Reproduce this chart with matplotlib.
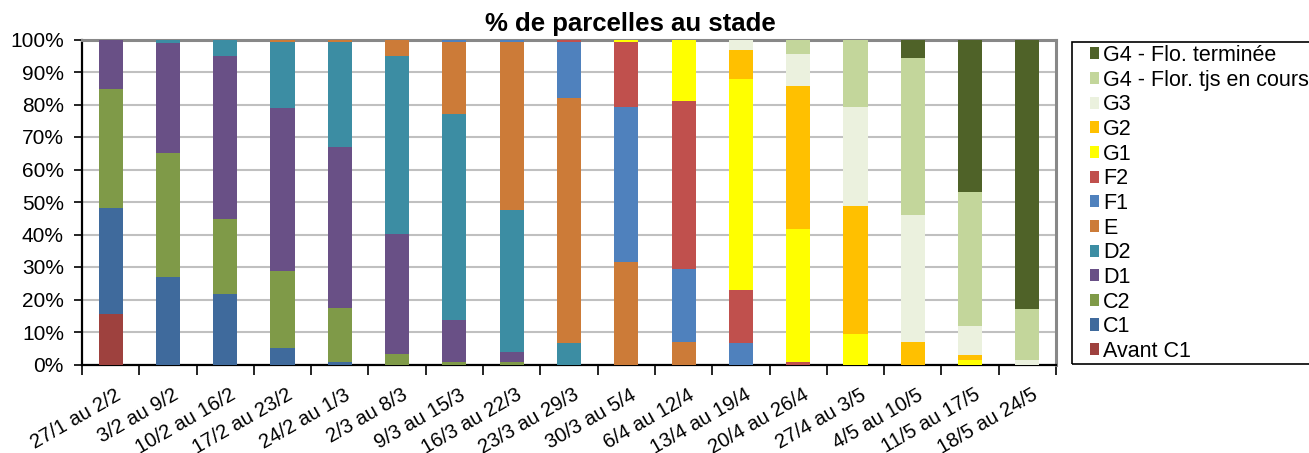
#!/usr/bin/env python3
# _*_ coding=utf-8 _*_

import numpy as np
import matplotlib
matplotlib.use("Agg")
import matplotlib.pyplot as plt
from matplotlib.patches import Patch, Rectangle
from matplotlib.transforms import ScaledTranslation

plt.rcParams["font.family"] = ["Liberation Sans", "DejaVu Sans"]

weeks = ["27/1 au 2/2", "3/2 au 9/2", "10/2 au 16/2", "17/2 au 23/2",
         "24/2 au 1/3", "2/3 au 8/3", "9/3 au 15/3", "16/3 au 22/3",
         "23/3 au 29/3", "30/3 au 5/4", "6/4 au 12/4", "13/4 au 19/4",
         "20/4 au 26/4", "27/4 au 3/5", "4/5 au 10/5", "11/5 au 17/5",
         "18/5 au 24/5"]

stages = ["Avant C1", "C1", "C2", "D1", "D2", "E", "F1", "F2",
          "G1", "G2", "G3", "G4 - Flor. tjs en cours", "G4 - Flo. terminée"]

# % of plots per stage, one list per stage (same order as weeks)
avant_c1 = [15.4, 0, 0, 0, 0, 0, 0, 0, 0, 0, 0, 0, 0, 0, 0, 0, 0]
c1 = [32.7, 27, 21.6, 5.1, 0.9, 0, 0, 0, 0, 0, 0, 0, 0, 0, 0, 0, 0]
c2 = [36.7, 38, 23.3, 23.8, 16.6, 3.1, 0.8, 0.8, 0, 0, 0, 0, 0, 0, 0, 0, 0]
d1 = [15.2, 34, 50.1, 50, 49.5, 37, 13, 2.9, 0, 0, 0, 0, 0, 0, 0, 0, 0]
d2 = [0, 1, 5, 20.3, 32.2, 54.9, 63.2, 43.9, 6.7, 0, 0, 0, 0, 0, 0, 0, 0]
e = [0, 0, 0, 0.8, 0.8, 5, 22.3, 51.7, 75.2, 31.5, 7, 0, 0, 0, 0, 0, 0]
f1 = [0, 0, 0, 0, 0, 0, 0.7, 0.7, 17.3, 47.6, 22.4, 6.6, 0, 0, 0, 0, 0]
f2 = [0, 0, 0, 0, 0, 0, 0, 0, 0.8, 20.1, 51.8, 16.4, 0.9, 0, 0, 0, 0]
g1 = [0, 0, 0, 0, 0, 0, 0, 0, 0, 0.8, 18.8, 65, 40.7, 9.3, 0, 1.4, 0]
g2 = [0, 0, 0, 0, 0, 0, 0, 0, 0, 0, 0, 8.9, 44.2, 39.4, 6.9, 1.4, 0]
g3 = [0, 0, 0, 0, 0, 0, 0, 0, 0, 0, 0, 3.1, 9.6, 30.4, 39, 9, 1.5]
g4_cours = [0, 0, 0, 0, 0, 0, 0, 0, 0, 0, 0, 0, 4.6, 20.9, 48.4, 41.2, 15.6]
g4_term = [0, 0, 0, 0, 0, 0, 0, 0, 0, 0, 0, 0, 0, 0, 5.7, 47, 82.9]

colors = ["#9E413E", "#3F6A9C", "#7F9A48", "#695086", "#3C8DA3", "#CC7B38",
          "#4F81BD", "#C0504D", "#FFFF00", "#FFC000", "#EBF1DE", "#C3D69B",
          "#4F6228"]


def main():
    series = [avant_c1, c1, c2, d1, d2, e, f1, f2, g1, g2, g3, g4_cours, g4_term]

    W, H = 1309, 453
    fig = plt.figure(figsize=(W / 100, H / 100), dpi=100)
    ax = fig.add_axes([82 / W, 1 - 364.5 / H, 974 / W, 325 / H])

    x = np.arange(len(weeks))
    bottom = np.zeros(len(weeks))
    for vals, col in zip(series, colors):
        vals = np.array(vals, dtype=float)
        ax.bar(x, vals, width=0.42, bottom=bottom, color=col, zorder=3)
        bottom += vals

    ax.set_xlim(-0.5, len(weeks) - 0.5)
    ax.set_ylim(0, 100)
    ax.set_yticks(np.arange(0, 101, 10))
    ax.set_yticklabels(["%d%%" % v for v in range(0, 101, 10)], fontsize=15)
    ax.yaxis.grid(True, color="#c0c0c0", linewidth=1.5, zorder=0)
    ax.set_axisbelow(True)

    ax.set_xticks(x)
    ax.set_xticklabels(weeks, rotation=30, ha="right", va="top",
                       rotation_mode="anchor", fontsize=14.5)
    ax.set_xticks(np.arange(-0.5, len(weeks), 1), minor=True)
    ax.tick_params(axis="x", which="major", length=0, pad=15)
    ax.tick_params(axis="x", which="minor", length=7, width=1.2, color="black")
    ax.tick_params(axis="y", length=6, width=1.2, direction="out", pad=7)
    shift = ScaledTranslation(4 / 100, 0, fig.dpi_scale_trans)
    for lbl in ax.get_xticklabels():
        lbl.set_transform(lbl.get_transform() + shift)

    ax.spines["left"].set_color("black")
    ax.spines["bottom"].set_color("black")
    ax.spines["left"].set_linewidth(1.6)
    ax.spines["bottom"].set_linewidth(1.6)
    ax.spines["top"].set_color("#888888")
    ax.spines["right"].set_color("#888888")
    ax.spines["top"].set_linewidth(2.2)
    ax.spines["right"].set_linewidth(2.2)

    fig.text(630 / W, 1 - 24 / H, "% de parcelles au stade", ha="center",
             va="center", fontsize=18.5, fontweight="bold")

    # legend frame runs off the right edge, as in the original
    fig.patches.append(Rectangle((1072 / W, 1 - 364 / H), 300 / W, 322 / H,
                                 transform=fig.transFigure, fill=False,
                                 edgecolor="black", linewidth=1.2))
    handles = [Patch(facecolor=c) for c in colors][::-1]
    fig.legend(handles, stages[::-1], loc="upper left",
               bbox_to_anchor=(1090 / W, 1 - 45 / H), fontsize=15.5,
               frameon=False, handlelength=0.42, handleheight=0.5,
               handletextpad=0.2, labelspacing=0.17, borderpad=0,
               borderaxespad=0)

    fig.savefig("out.png", dpi=100)


if __name__ == "__main__":
    main()
